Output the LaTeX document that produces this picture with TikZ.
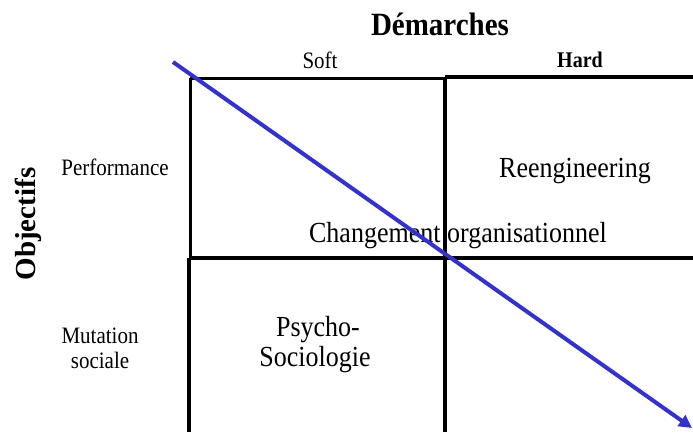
\documentclass[tikz,border=0pt]{standalone}
\usepackage{fontspec}
\setmainfont{Liberation Serif}
\usetikzlibrary{arrows.meta}
\definecolor{arrowblue}{HTML}{3333CC}
\newcommand{\talltext}[1]{\scalebox{1}[1.12]{#1}}
\tikzset{
  small/.style={font=\fontsize{21}{25}\selectfont, inner sep=0pt, anchor=base},
  large/.style={font=\fontsize{26}{30}\selectfont, inner sep=0pt, anchor=base},
  title/.style={font=\bfseries\fontsize{29}{33}\selectfont, inner sep=0pt, anchor=base},
  grid/.style={line width=4pt, black},
  gridthin/.style={line width=3pt, black},
  diag/.style={line width=4pt, arrowblue, -{Triangle[length=13pt,width=13pt]}}
}
\begin{document}
\begin{tikzpicture}[x=1pt,y=-1pt]
\useasboundingbox (0,0) rectangle (693,432);
% grid
\draw[gridthin] (190,78) -- (445,78);
\draw[grid] (445,77) -- (693,77);
\draw[gridthin] (190,78) -- (190,258);
\draw[grid] (189,258) -- (189,432);
\draw[grid] (445,77) -- (445,432);
\draw[grid] (189,258) -- (693,258);
% labels
\node[title] (dem) at (440,35) {\talltext{Démarches}};
\node[title, rotate=90] (obj) at (35,224) {Objectifs};
\node[small] (soft) at (320,68) {\talltext{Soft}};
\node[small, font=\bfseries\fontsize{20}{24}\selectfont] (hard) at (580,67) {\talltext{Hard}};
\node[small] (perf) at (115,175) {\talltext{Performance}};
\node[small] (mut) at (100,343) {\talltext{Mutation}};
\node[small] (soc) at (100,368) {\talltext{sociale}};
\node[large] (reeng) at (575,177) {\talltext{Reengineering}};
\node[large] (chg) at (458,242) {\talltext{Changement organisationnel}};
\node[large] (psy) at (318,336) {\talltext{Psycho-}};
\node[large] (psy2) at (315,366) {\talltext{Sociologie}};
% arrow
\coordinate (a0) at (173,62);
\coordinate (a1) at (692,428);
\draw[diag] (a0) -- (a1);
\end{tikzpicture}
\end{document}
